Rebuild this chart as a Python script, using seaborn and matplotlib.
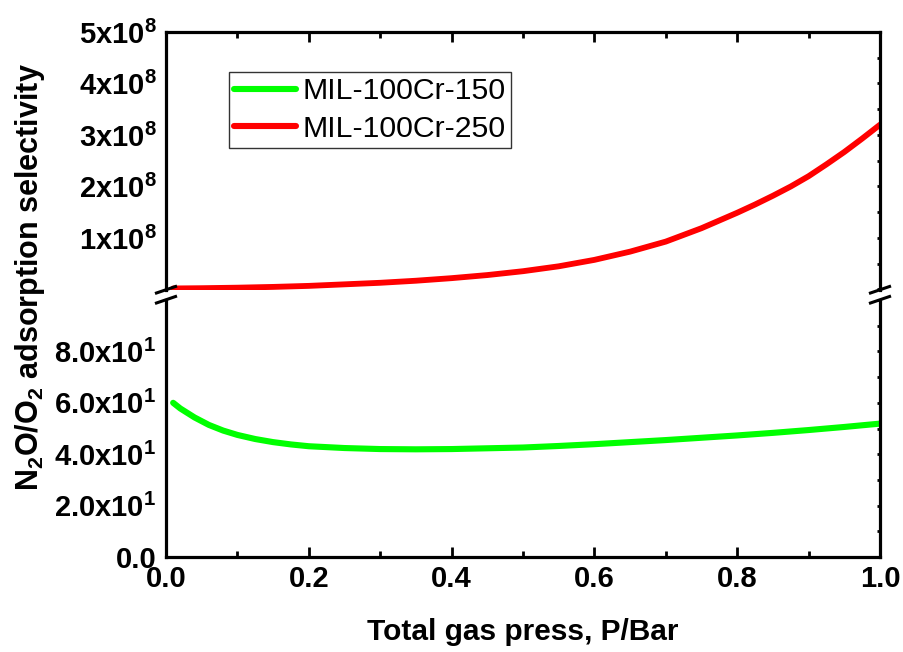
import numpy as np
import pandas as pd
import matplotlib
matplotlib.use("Agg")
import matplotlib.pyplot as plt
import seaborn as sns
from matplotlib.lines import Line2D
from matplotlib.ticker import MultipleLocator

# ---------------- data ----------------
pressure_150 = [0.01, 0.02, 0.04, 0.06, 0.08, 0.10, 0.125, 0.15, 0.175, 0.20, 0.25, 0.30, 0.35, 0.40,
                0.45, 0.50, 0.55, 0.60, 0.65, 0.70, 0.75, 0.80, 0.85, 0.90, 0.95, 1.00]
selectivity_150 = [60.0, 57.8, 54.3, 51.4, 49.2, 47.5, 45.9, 44.7, 43.8, 43.1, 42.4, 42.0, 41.9, 42.0,
                   42.3, 42.6, 43.2, 43.9, 44.7, 45.5, 46.4, 47.3, 48.3, 49.4, 50.6, 51.9]

pressure_250 = [0.01, 0.05, 0.10, 0.15, 0.20, 0.25, 0.30, 0.35, 0.40, 0.45, 0.50,
                0.55, 0.60, 0.65, 0.70, 0.75, 0.80, 0.825, 0.85, 0.875, 0.90, 0.925,
                0.95, 0.975, 1.00]
selectivity_250 = [2.0e6, 2.5e6, 3.5e6, 5.0e6, 7.0e6, 1.0e7, 1.3e7, 1.7e7, 2.2e7, 2.8e7, 3.55e7,
                   4.5e7, 5.75e7, 7.35e7, 9.3e7, 1.19e8, 1.49e8, 1.65e8, 1.82e8, 2.00e8, 2.20e8,
                   2.43e8, 2.67e8, 2.93e8, 3.20e8]

series_labels = ["MIL-100Cr-150", "MIL-100Cr-250"]

x_ticks = [0.0, 0.2, 0.4, 0.6, 0.8, 1.0]
x_tick_labels = ["0.0", "0.2", "0.4", "0.6", "0.8", "1.0"]
y_ticks_top = [1e8, 2e8, 3e8, 4e8, 5e8]
y_tick_labels_top = [r"$1x10^{8}$", r"$2x10^{8}$", r"$3x10^{8}$", r"$4x10^{8}$", r"$5x10^{8}$"]
y_ticks_bottom = [0, 20, 40, 60, 80]
y_tick_labels_bottom = ["0.0", r"$2.0x10^{1}$", r"$4.0x10^{1}$", r"$6.0x10^{1}$", r"$8.0x10^{1}$"]

x_label = "Total gas press, P/Bar"
y_label = r"N$_2$O/O$_2$ adsorption selectivity"

df150 = pd.DataFrame({"P": pressure_150, "S": selectivity_150})
df250 = pd.DataFrame({"P": pressure_250, "S": selectivity_250})

# ---------------- style ----------------
sns.set_style("white")
plt.rcParams["font.family"] = ["Liberation Sans", "DejaVu Sans"]
plt.rcParams["text.color"] = "black"
plt.rcParams["axes.labelcolor"] = "black"
plt.rcParams["xtick.color"] = "black"
plt.rcParams["ytick.color"] = "black"
plt.rcParams["mathtext.fontset"] = "custom"
for k in ("rm", "it", "bf", "sf"):
    plt.rcParams["mathtext." + k] = "Liberation Sans:bold"

W, H = 904, 652
fig = plt.figure(figsize=(W / 100, H / 100), dpi=100)
L, R = 166, 880
ax_top = fig.add_axes([L / W, 1 - 290 / H, (R - L) / W, (290 - 32) / H])
ax_bot = fig.add_axes([L / W, 1 - 557 / H, (R - L) / W, (557 - 300) / H])

GREEN = "#00FF00"
RED = "#FF0000"

sns.lineplot(data=df250, x="P", y="S", ax=ax_top, color=RED, lw=4.2,
             label=series_labels[1], legend=False)
sns.lineplot(data=df150, x="P", y="S", ax=ax_bot, color=GREEN, lw=4.4,
             label=series_labels[0], legend=False)

ax_top.set_xlim(0, 1)
ax_bot.set_xlim(0, 1)
ax_top.set_ylim(-1e6, 5e8)
ax_bot.set_ylim(0, 100)

spine_w = 2.3
for ax in (ax_top, ax_bot):
    for s in ax.spines.values():
        s.set_linewidth(spine_w)
        s.set_color("black")
    ax.set_xlabel("")
    ax.set_ylabel("")
    ax.xaxis.set_minor_locator(MultipleLocator(0.1))
    ax.tick_params(which="major", direction="in", length=7, width=2.0, color="black")
    ax.tick_params(which="minor", direction="in", length=4, width=2.0, color="black")

ax_top.spines["bottom"].set_visible(False)
ax_bot.spines["top"].set_visible(False)

# top panel
ax_top.set_yticks(y_ticks_top, y_tick_labels_top)
ax_top.yaxis.set_minor_locator(MultipleLocator(0.5e8))
ax_top.set_xticks(x_ticks)
ax_top.tick_params(axis="x", which="both", bottom=False, top=True, labelbottom=False)

# bottom panel
ax_bot.set_yticks(y_ticks_bottom, y_tick_labels_bottom)
ax_bot.yaxis.set_minor_locator(MultipleLocator(10))
ax_bot.set_xticks(x_ticks, x_tick_labels)
ax_bot.tick_params(axis="x", which="both", bottom=True, top=False)

for ax in (ax_top, ax_bot):
    ax.tick_params(axis="y", which="major", pad=7, labelsize=21, labelcolor="black")
    ax.tick_params(axis="x", which="major", pad=6, labelsize=21, labelcolor="black")
    ax.tick_params(axis="y", which="both", right=True)
    for lab in ax.get_xticklabels() + ax.get_yticklabels():
        lab.set_fontweight("bold")

# right-side ticks shorter
for ax in (ax_top, ax_bot):
    for t in ax.yaxis.get_major_ticks() + ax.yaxis.get_minor_ticks():
        t.tick2line.set_markersize(2.5)

# axis labels
fig.text(523 / W, 1 - 632 / H, x_label, ha="center", va="center",
         fontsize=21.5, fontweight="bold", color="black")
fig.text(30 / W, 1 - 277 / H, y_label, ha="center", va="center",
         rotation=90, fontsize=22, fontweight="bold", color="black")

# break marks
def px_line(x0, y0, x1, y1):
    fig.add_artist(Line2D([x0 / W, x1 / W], [1 - y0 / H, 1 - y1 / H],
                          transform=fig.transFigure, color="black", lw=2.2,
                          solid_capstyle="butt"))

for xs in (L, R):
    px_line(xs - 11, 293.5, xs + 11, 286)
    px_line(xs - 11, 303.5, xs + 11, 296)

# legend
handles = [Line2D([], [], color=GREEN, lw=4.4, solid_capstyle="round"),
           Line2D([], [], color=RED, lw=4.4, solid_capstyle="round")]
leg = fig.legend(handles, series_labels, loc="upper left",
                 bbox_to_anchor=(229 / W, 1 - 72 / H), bbox_transform=fig.transFigure,
                 frameon=True, fancybox=False, edgecolor="black", fontsize=21.8,
                 handlelength=2.05, handletextpad=0.2, borderpad=0.17,
                 labelspacing=0.31, borderaxespad=0)
for txt in leg.get_texts():
    txt.set_color("black")
leg.get_frame().set_linewidth(1.0)

fig.savefig("out.png", dpi=100, facecolor="white")
